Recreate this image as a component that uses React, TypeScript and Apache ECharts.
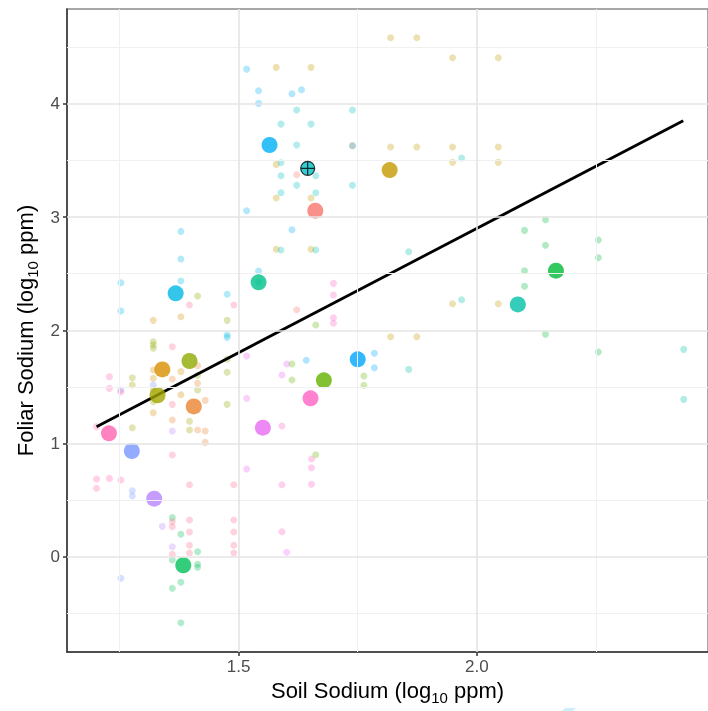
import React, { useEffect, useRef } from 'react';
import * as echarts from 'echarts';

// Axis ticks and grid positions
const xTicks = [1.5, 2.0];
const yTicks = [0, 1, 2, 3, 4];
const xMinorGrid = [1.25, 1.75, 2.25];
const yMinorGrid = [-0.5, 0.5, 1.5, 2.5, 3.5, 4.5];

// Group colours (ggplot-like hue palette) and group means
const groupColors = [
  '#F8766D', '#EA8331', '#D89000', '#C49A00', '#A3A500', '#8FAA00', '#64B200',
  '#00BA38', '#00C05A', '#00C08B', '#00C1A8', '#00BFC4', '#00B8E5', '#00B0F6',
  '#00A6FF', '#7997FF', '#B983FF', '#E76BF3', '#FF62C3', '#FF64B0',
];
const meanX = [1.661, 1.406, 1.340, 1.817, 1.330, 1.397, 1.679, 2.166, 1.384, 1.542, 2.086, 1.645, 1.368, 1.565, 1.750, 1.276, 1.323, 1.551, 1.651, 1.228];
const meanY = [3.057, 1.328, 1.655, 3.416, 1.426, 1.729, 1.558, 2.527, -0.076, 2.424, 2.229, 3.431, 2.327, 3.637, 1.744, 0.934, 0.513, 1.140, 1.399, 1.090];
const highlightedGroup = 11;

// Individual observations per group [soil, foliar]
const obs01 = [[1.739, 3.631], [1.622, 3.375], [1.622, 2.182]];
const obs02 = [[1.361, 1.570], [1.361, 1.208], [1.414, 1.688], [1.414, 1.532], [1.414, 1.119], [1.430, 1.110], [1.430, 1.381], [1.430, 1.010]];
const obs03 = [[1.379, 1.635], [1.379, 1.431], [1.321, 1.649], [1.321, 1.576], [1.321, 1.272], [1.321, 2.088], [1.379, 2.120]];
const obs04 = [[1.819, 4.585], [1.874, 4.585], [1.949, 4.408], [2.045, 4.408], [1.819, 3.619], [1.874, 3.619], [1.949, 3.619], [2.045, 3.619], [1.949, 3.484], [2.045, 3.484], [1.949, 2.235], [2.045, 2.235], [1.819, 1.944], [1.874, 1.944], [1.579, 4.323], [1.652, 4.323], [1.579, 3.466], [1.579, 3.169], [1.652, 3.169], [1.579, 2.716], [1.652, 2.716]];
const obs05 = [[1.277, 1.581], [1.277, 1.517], [1.277, 1.140], [1.321, 1.473], [1.321, 1.369], [1.397, 1.196], [1.397, 1.119]];
const obs06 = [[1.476, 2.088], [1.476, 1.744], [1.476, 1.629], [1.476, 1.346], [1.414, 2.303], [1.414, 1.603], [1.414, 1.473], [1.321, 1.899], [1.321, 1.870], [1.321, 1.841]];
const obs07 = [[1.612, 1.702], [1.612, 1.561], [1.763, 1.596], [1.763, 1.514], [1.662, 0.901], [1.662, 2.047]];
const obs08 = [[2.144, 2.977], [2.100, 2.883], [2.144, 2.751], [2.255, 2.798], [2.255, 2.641], [2.100, 2.527], [2.100, 2.389], [2.144, 1.965], [2.255, 1.808]];
const obs09 = [[1.361, 0.345], [1.361, -0.029], [1.361, -0.279], [1.379, 0.198], [1.379, -0.226], [1.379, -0.583], [1.414, 0.044], [1.414, -0.067], [1.414, -0.094]];
const obs10 = [[1.542, 2.424]];
const obs11 = [[2.434, 1.832], [2.434, 1.390], [1.857, 2.694], [1.857, 1.655], [1.968, 3.522], [1.968, 2.270]];
const obs12 = [[1.622, 3.946], [1.739, 3.946], [1.589, 3.822], [1.652, 3.822], [1.622, 3.637], [1.739, 3.631], [1.589, 3.481], [1.662, 3.366], [1.589, 3.366], [1.622, 3.281], [1.662, 3.216], [1.589, 3.216], [1.739, 3.281], [1.589, 2.709], [1.662, 2.709]];
const obs13 = [[1.379, 2.874], [1.379, 2.630], [1.379, 2.436], [1.253, 2.421], [1.253, 2.170], [1.476, 2.318], [1.476, 1.958], [1.476, 1.938]];
const obs14 = [[1.517, 4.308], [1.542, 4.117], [1.542, 4.005], [1.612, 4.090], [1.632, 4.126], [1.517, 3.057], [1.612, 2.889], [1.542, 2.524]];
const obs15 = [[1.642, 1.735], [1.785, 1.797], [1.785, 1.670]];
const obs16 = [[1.253, 1.473], [1.277, 0.583], [1.277, 0.536], [1.253, -0.191], [1.321, 1.517]];
const obs17 = [[1.361, 1.110], [1.340, 0.268], [1.361, 0.088]];
const obs18 = [[1.517, 1.773], [1.517, 1.399], [1.517, 0.775], [1.591, 1.605], [1.601, 1.702], [1.601, 0.039]];
const obs19 = [[1.699, 2.415], [1.699, 2.312], [1.699, 2.111], [1.699, 2.062], [1.653, 0.863], [1.653, 0.786], [1.653, 0.640], [1.591, 1.155], [1.591, 0.636], [1.591, 0.221]];
const obs20 = [[1.229, 1.590], [1.229, 1.487], [1.253, 1.455], [1.202, 1.149], [1.202, 0.686], [1.202, 0.604], [1.229, 0.692], [1.253, 0.678]];
const obsPinkExtra = [[1.361, 1.855], [1.361, 1.346], [1.361, 0.898], [1.361, 0.309], [1.361, 0.265], [1.361, 0.021], [1.397, 2.224], [1.490, 2.224], [1.397, 0.636], [1.397, 0.324], [1.397, 0.218], [1.397, 0.101], [1.397, 0.033], [1.490, 0.636], [1.490, 0.324], [1.490, 0.218], [1.490, 0.101], [1.490, 0.033]];
const pinkExtraColor = '#FF6C91';

const groupObs = [obs01, obs02, obs03, obs04, obs05, obs06, obs07, obs08, obs09, obs10, obs11, obs12, obs13, obs14, obs15, obs16, obs17, obs18, obs19, obs20];

// Fitted regression line endpoints
const fitX = [1.202, 2.433];
const fitY = [1.148, 3.852];

const FONT = 'Liberation Sans, Arial, Helvetica, sans-serif';

export default function App() {
  const ref = useRef<HTMLDivElement>(null);
  useEffect(() => {
    if (!ref.current) return;
    const chart = echarts.init(ref.current, null, { renderer: 'svg' });

    const series: any[] = [];
    // grid lines
    series.push({
      type: 'line',
      data: [],
      z: 1,
      silent: true,
      markLine: {
        silent: true,
        symbol: ['none', 'none'],
        label: { show: false },
        animation: false,
        data: [
          ...xMinorGrid.map((v) => ({ xAxis: v, lineStyle: { color: '#F0F0F0', width: 1, type: 'solid' } })),
          ...yMinorGrid.map((v) => ({ yAxis: v, lineStyle: { color: '#F0F0F0', width: 1, type: 'solid' } })),
          ...xTicks.map((v) => ({ xAxis: v, lineStyle: { color: '#E4E4E4', width: 1.6, type: 'solid' } })),
          ...yTicks.map((v) => ({ yAxis: v, lineStyle: { color: '#E4E4E4', width: 1.6, type: 'solid' } })),
        ],
      },
    });

    groupObs.forEach((obs, i) => {
      series.push({
        type: 'scatter',
        data: obs,
        symbol: 'circle',
        symbolSize: 7,
        z: 2,
        itemStyle: { color: groupColors[i], opacity: 0.3 },
      });
    });
    series.push({
      type: 'scatter',
      data: obsPinkExtra,
      symbol: 'circle',
      symbolSize: 7,
      z: 2,
      itemStyle: { color: pinkExtraColor, opacity: 0.3 },
    });

    series.push({
      type: 'line',
      data: fitX.map((x, i) => [x, fitY[i]]),
      symbol: 'none',
      z: 3,
      lineStyle: { color: '#000', width: 2.8 },
    });

    series.push({
      type: 'scatter',
      z: 4,
      data: meanX
        .map((x, i) => ({ i, x }))
        .filter((d) => d.i !== highlightedGroup)
        .map((d) => ({ value: [d.x, meanY[d.i]], itemStyle: { color: groupColors[d.i] } })),
      symbol: 'circle',
      symbolSize: 16,
    });
    series.push({
      type: 'scatter',
      z: 5,
      data: [[meanX[highlightedGroup], meanY[highlightedGroup]]],
      symbol: 'path://M0,-10A10,10,0,1,1,0,10A10,10,0,1,1,0,-10ZM-10,0L10,0M0,-10L0,10',
      symbolSize: 14,
      itemStyle: { color: groupColors[highlightedGroup], borderColor: '#000', borderWidth: 1.2 },
    });

    chart.setOption({
      animation: false,
      grid: { left: 67, top: 9, right: -2, bottom: 59, show: true, borderColor: '#8a8a8a', borderWidth: 1.5, backgroundColor: '#fff' },
      xAxis: {
        type: 'value',
        min: 1.14,
        max: 2.485,
        name: 'Soil Sodium (log{sub|10} ppm)',
        nameLocation: 'middle',
        nameGap: 20,
        nameTextStyle: {
          fontFamily: FONT, fontSize: 22, color: '#000',
          rich: { sub: { fontFamily: FONT, fontSize: 15, color: '#000', padding: [14, 0, 0, 0], verticalAlign: 'bottom' } },
        },
        axisLine: { show: true, onZero: false, lineStyle: { color: '#333', width: 1.5 } },
        axisTick: { show: true, customValues: xTicks, length: 4, lineStyle: { color: '#333', width: 1.5 } },
        axisLabel: { customValues: xTicks, formatter: (v: number) => v.toFixed(1), color: '#4D4D4D', fontFamily: FONT, fontSize: 17, margin: 6 },
        splitLine: { show: false },
      },
      yAxis: {
        type: 'value',
        min: -0.842,
        max: 4.839,
        name: 'Foliar Sodium (log{sub|10} ppm)',
        nameLocation: 'middle',
        nameGap: 25,
        nameRotate: 90,
        nameTextStyle: {
          fontFamily: FONT, fontSize: 22, color: '#000',
          rich: { sub: { fontFamily: FONT, fontSize: 15, color: '#000', padding: [14, 0, 0, 0], verticalAlign: 'bottom' } },
        },
        axisLine: { show: true, onZero: false, lineStyle: { color: '#333', width: 1.5 } },
        axisTick: { show: true, customValues: yTicks, length: 4, lineStyle: { color: '#333', width: 1.5 } },
        axisLabel: { customValues: yTicks, formatter: (v: number) => String(v), color: '#4D4D4D', fontFamily: FONT, fontSize: 17, margin: 7 },
        splitLine: { show: false },
      },
      graphic: [
        {
          type: 'polygon',
          silent: true,
          shape: { points: [[562, 711], [565, 708], [576, 708], [573, 711]] },
          style: { fill: '#C9EFFB' },
        },
      ],
      series,
    });
    return () => chart.dispose();
  }, []);
  return <div ref={ref} style={{ position: 'fixed', left: 0, top: 0, width: 708, height: 711 }} />;
}
